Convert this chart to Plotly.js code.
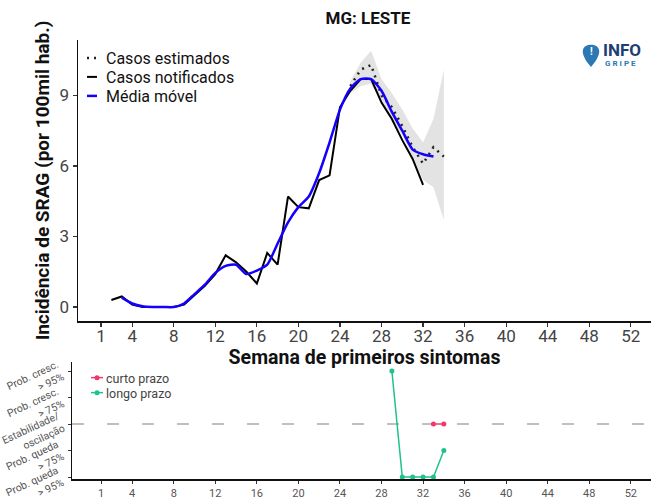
<!DOCTYPE html>
<html>
<head>
<meta charset="utf-8">
<script src="https://cdn.plot.ly/plotly-3.0.1.min.js"></script>
<style>html,body{margin:0;padding:0;background:#fff;}#chart{width:653px;height:504px;}</style>
</head>
<body>
<div id="chart"></div>
<script>
// ---- Data ----
const weeksNotif = [2,3,4,5,6,7,8,9,10,11,12,13,14,15,16,17,18,19,20,21,22,23,24,25,26,27,28,29,30,31,32];
const casosNotificados = [0.3,0.45,0.1,0,0,0,0,0.1,0.5,0.9,1.4,2.2,1.9,1.5,1.0,2.3,1.8,4.7,4.25,4.2,5.4,5.6,8.5,9.2,9.7,9.7,8.7,8.0,7.1,6.3,5.2];

const weeksMedia = [3,4,5,6,7,8,9,10,11,12,13,14,15,16,17,18,19,20,21,22,23,24,25,26,27,28,29,30,31,32,33];
const mediaMovel = [0.4,0.15,0.03,0,0,0,0.15,0.55,0.95,1.45,1.75,1.8,1.4,1.55,1.8,2.7,3.6,4.25,4.7,5.7,7.0,8.4,9.3,9.7,9.7,9.2,8.3,7.5,6.7,6.5,6.4];

const weeksEst = [25,26,27,28,29,30,31,32,33,34];
const casosEstimados = [9.4,10.1,10.3,9.0,8.5,7.7,6.8,6.1,6.8,6.4];
const icInferior = [9.1,9.4,9.5,8.7,8.0,7.3,6.4,5.4,5.1,3.7];
const icSuperior = [9.6,10.4,10.9,9.7,9.1,8.4,7.6,7.0,8.0,10.1];

const weeksLongo = [29,30,31,32,33,34];
const tendLongo = [5,1,1,1,1,2];
const weeksCurto = [33,34];
const tendCurto = [3,3];

const xTicks = [1,4,8,12,16,20,24,28,32,36,40,44,48,52];
const yTicksTop = [0,3,6,9];
const tendLevels = [1,2,3,4,5];
const tendLabels = ["Prob. queda<br>> 95%","Prob. queda<br>> 75%","Estabilidade/<br>oscilação","Prob. cresc.<br>> 75%","Prob. cresc.<br>> 95%"];

// ---- Layout geometry ----
const W = 653, H = 504;
const mL = 72, mR = 2, mT = 40, mB = 25;
const pw = W - mL - mR, ph = H - mT - mB;
const px2paperX = px => (px - mL) / pw;
const px2paperY = py => (H - mB - py) / ph;

const FONT = "Roboto, 'Liberation Sans', Arial, sans-serif";

const traces = [
  {x: weeksEst.concat(weeksEst.slice().reverse()), y: icSuperior.concat(icInferior.slice().reverse()),
   type:'scatter', mode:'lines', fill:'toself', fillcolor:'rgba(200,200,200,0.5)',
   line:{width:0}, hoverinfo:'skip', showlegend:false, xaxis:'x', yaxis:'y'},
  {x: weeksEst, y: casosEstimados, type:'scatter', mode:'lines', name:'Casos estimados',
   line:{color:'#222', width:2.5, dash:'2px,5px'}, xaxis:'x', yaxis:'y', legend:'legend'},
  {x: weeksNotif, y: casosNotificados, type:'scatter', mode:'lines', name:'Casos notificados',
   line:{color:'#000', width:2}, xaxis:'x', yaxis:'y', legend:'legend'},
  {x: weeksMedia, y: mediaMovel, type:'scatter', mode:'lines', name:'Média móvel',
   line:{color:'#1400ff', width:2.5, shape:'spline', smoothing:0.6}, xaxis:'x', yaxis:'y', legend:'legend'},
  {x: weeksCurto, y: tendCurto, type:'scatter', mode:'lines+markers', name:'curto prazo',
   line:{color:'#f0386b', width:1.5}, marker:{color:'#f0386b', size:5}, xaxis:'x2', yaxis:'y2', legend:'legend2'},
  {x: weeksLongo, y: tendLongo, type:'scatter', mode:'lines+markers', name:'longo prazo',
   line:{color:'#1ec38a', width:1.5}, marker:{color:'#1ec38a', size:5}, xaxis:'x2', yaxis:'y2', legend:'legend2'}
];

// pin icon path (decorative logo)
function P(x,y){return px2paperX(x).toFixed(5)+','+px2paperY(y).toFixed(5);}
const pinPath = 'M'+P(591,67)+' C'+P(584,59)+' '+P(582,53)+' '+P(583,50)+
  ' C'+P(584,43)+' '+P(598,43)+' '+P(599,50)+' C'+P(600,53)+' '+P(598,59)+' '+P(591,67)+' Z';

const annotations = [
  {xref:'paper', yref:'paper', x:px2paperX(591), y:px2paperY(52), text:'<b>!</b>', showarrow:false,
   font:{size:10, color:'#fff', family:FONT}, xanchor:'center', yanchor:'middle'},
  {xref:'paper', yref:'paper', x:px2paperX(601), y:px2paperY(50), text:'<b>INFO</b>', showarrow:false,
   font:{size:17, color:'#1d3f72', family:FONT}, xanchor:'left', yanchor:'middle'},
  {xref:'paper', yref:'paper', x:px2paperX(603), y:px2paperY(64), text:'<b>G R I P E</b>', showarrow:false,
   font:{size:8, color:'#2b78b5', family:FONT}, xanchor:'left', yanchor:'middle'}
];
tendLevels.forEach((lv, i) => {
  annotations.push({xref:'paper', yref:'y2', x:px2paperX(70), y:lv, text:tendLabels[i], showarrow:false,
    textangle:-25, align:'right', xanchor:'right', yanchor:'middle', yshift:-11,
    font:{size:10.5, color:'#555', family:FONT}});
});

const layout = {
  width: W, height: H,
  margin: {l:mL, r:mR, t:mT, b:mB},
  paper_bgcolor:'#fff', plot_bgcolor:'#fff',
  font:{family:FONT, color:'#333'},
  title:{text:'<b>MG: LESTE</b>', font:{size:17, color:'#111', family:FONT},
         x: px2paperX(368), xref:'paper', xanchor:'center', y: 1-18/H, yref:'container', yanchor:'middle'},
  xaxis:{domain:[px2paperX(78),1], range:[1-(101-78)/10.39, 53.94], anchor:'y',
         tickvals:xTicks, ticktext:xTicks.map(String), ticks:'outside', ticklen:4, tickwidth:1.2, tickcolor:'#333',
         ticklabelstandoff:-5,
         showline:true, linecolor:'#111', linewidth:1.5, showgrid:false, zeroline:false,
         tickfont:{size:17, color:'#444'},
         title:{text:'<b>Semana de primeiros sintomas</b>', font:{size:19.5, color:'#111'}, standoff:0}},
  yaxis:{domain:[px2paperY(321),1], range:[-(321-307)/23.5, (307-40)/23.5], anchor:'x',
         tickvals:yTicksTop, ticks:'outside', ticklen:4, tickwidth:1.2, tickcolor:'#333',
         showline:true, linecolor:'#111', linewidth:1.5, showgrid:false, zeroline:false,
         tickfont:{size:17, color:'#444'},
         title:{text:'<b>Incidência de SRAG (por 100mil hab.)</b>', font:{size:19, color:'#111'}, standoff:5}},
  xaxis2:{domain:[0,1], range:[1-(101-72)/10.39, 53.94], anchor:'y2',
          tickvals:xTicks, ticks:'outside', ticklen:3, tickwidth:1, tickcolor:'#333',
          showline:true, linecolor:'#111', linewidth:1.5, showgrid:false, zeroline:false,
          tickfont:{size:11, color:'#555'}},
  yaxis2:{domain:[0, px2paperY(362)], range:[1-(479-477)/26.5, 5+(371-362)/26.5], anchor:'x2',
          tickvals:tendLevels, showticklabels:false, ticks:'outside', ticklen:3, tickwidth:1, tickcolor:'#333',
          showline:true, linecolor:'#111', linewidth:1.5, showgrid:false, zeroline:false},
  legend:{x:px2paperX(66), y:px2paperY(41), xanchor:'left', yanchor:'top', bgcolor:'rgba(0,0,0,0)',
          font:{size:16, color:'#111'}, itemwidth:30, tracegroupgap:0, traceorder:'normal'},
  legend2:{x:px2paperX(66), y:px2paperY(363), xanchor:'left', yanchor:'top', bgcolor:'rgba(0,0,0,0)',
          font:{size:12.5, color:'#444'}, itemwidth:30, traceorder:'normal'},
  shapes:[
    {type:'line', xref:'x2 domain', yref:'y2', x0:0, x1:1, y0:3, y1:3,
     line:{color:'#aaa', width:1.5, dash:'12px,23px'}, layer:'below'},
    {type:'path', xref:'paper', yref:'paper', path:pinPath, fillcolor:'#2b78b5', line:{width:0}}
  ],
  annotations: annotations
};

function tightenLegend(sel, gap, lineD, markerX){
  const items = document.querySelectorAll(sel + ' .traces');
  if (!items.length) return;
  const m0 = /translate\(\s*([-\d.]+)[ ,]+([-\d.]+)\s*\)/.exec(items[0].getAttribute('transform') || '');
  if (!m0) return;
  const x0 = parseFloat(m0[1]), y0 = parseFloat(m0[2]);
  items.forEach((it, i) => {
    it.setAttribute('transform', 'translate(' + x0 + ',' + (y0 + i*gap) + ')');
    it.querySelectorAll('.legendlines path').forEach(p => p.setAttribute('d', lineD));
    if (markerX !== null) it.querySelectorAll('.legendsymbols path').forEach(p => p.setAttribute('transform', 'translate(' + markerX + ',0)'));
  });
}

Plotly.newPlot('chart', traces, layout, {displayModeBar:false, staticPlot:true}).then(() => {
  tightenLegend('g.legend', 19, 'M21,0h10', null);
  tightenLegend('g.legend2', 15, 'M25,0h12', 31);
});
</script>
</body>
</html>
